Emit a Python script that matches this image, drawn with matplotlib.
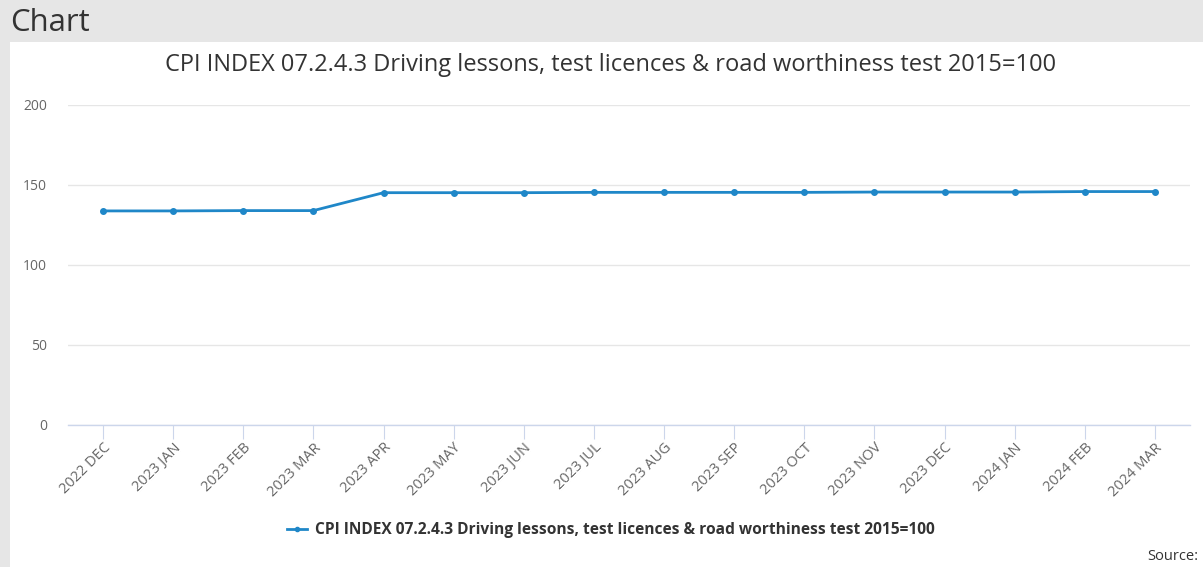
import matplotlib
matplotlib.use("Agg")
import matplotlib.pyplot as plt
from matplotlib.patches import Rectangle
from matplotlib.lines import Line2D

categories = ["2022 DEC", "2023 JAN", "2023 FEB", "2023 MAR", "2023 APR", "2023 MAY",
              "2023 JUN", "2023 JUL", "2023 AUG", "2023 SEP", "2023 OCT", "2023 NOV",
              "2023 DEC", "2024 JAN", "2024 FEB", "2024 MAR"]
values = [133.8, 133.8, 134.0, 134.0, 145.2, 145.2, 145.2, 145.4, 145.4, 145.4,
          145.4, 145.6, 145.6, 145.6, 145.9, 145.9]
yticks = [0, 50, 100, 150, 200]
series_name = "CPI INDEX 07.2.4.3 Driving lessons, test licences & road worthiness test 2015=100"

plt.rcParams['font.family'] = ['Open Sans', 'DejaVu Sans']
W, H = 1203, 567
fig = plt.figure(figsize=(W / 100, H / 100), dpi=100)
fig.patch.set_facecolor('#e6e6e6')
# white panel
fig.patches.append(Rectangle((10 / W, 0), (W - 10) / W, (H - 42) / H,
                             transform=fig.transFigure, facecolor='white',
                             edgecolor='none', zorder=-10))
fig.text(10 / W, 1 - 23 / H, "Chart", fontsize=22.4, color='#333333', va='center', ha='left')
fig.text(611 / W, 1 - 65 / H, series_name, fontsize=17, color='#333333', va='center', ha='center')

ax = fig.add_axes([68 / W, 1 - 425 / H, (1190 - 68) / W, (425 - 105) / H])
ax.set_facecolor('none')
x = list(range(len(categories)))
line_color = '#1f87c8'
ax.plot(x, values, color=line_color, lw=2, marker='o', ms=4, zorder=3, clip_on=False)
ax.set_xlim(-0.5, len(categories) - 0.5)
ax.set_ylim(0, 200)
ax.set_yticks(yticks)
ax.set_yticklabels([str(v) for v in yticks])
ax.grid(axis='y', color='#e6e6e6', lw=1)
ax.set_axisbelow(True)
for s in ['top', 'right', 'left']:
    ax.spines[s].set_visible(False)
ax.spines['bottom'].set_color('#ccd6eb')
ax.spines['bottom'].set_linewidth(1)
ax.tick_params(axis='y', length=0, labelsize=10, labelcolor='#666666', pad=15)
ax.set_xticks(x)
ax.set_xticklabels(categories, rotation=45, ha='right', rotation_mode='anchor',
                   fontsize=10.5, color='#666666')
ax.tick_params(axis='x', length=10, color='#ccd6eb', pad=1)
for lbl in ax.get_xticklabels():
    lbl.set_x(lbl.get_position()[0])

handle = Line2D([], [], color=line_color, lw=2, marker='o', ms=3)
fig.legend([handle], [series_name], loc='center', bbox_to_anchor=(611 / W, 1 - 530 / H),
           frameon=False, prop={'weight': 'bold', 'size': 11.2}, handlelength=1.3,
           handletextpad=0.5, labelcolor='#333333')
fig.text(1198 / W, 1 - 556 / H, "Source:", fontsize=10.5, color='#333333', ha='right', va='center')

fig.savefig('out.png', dpi=100, facecolor=fig.get_facecolor())
